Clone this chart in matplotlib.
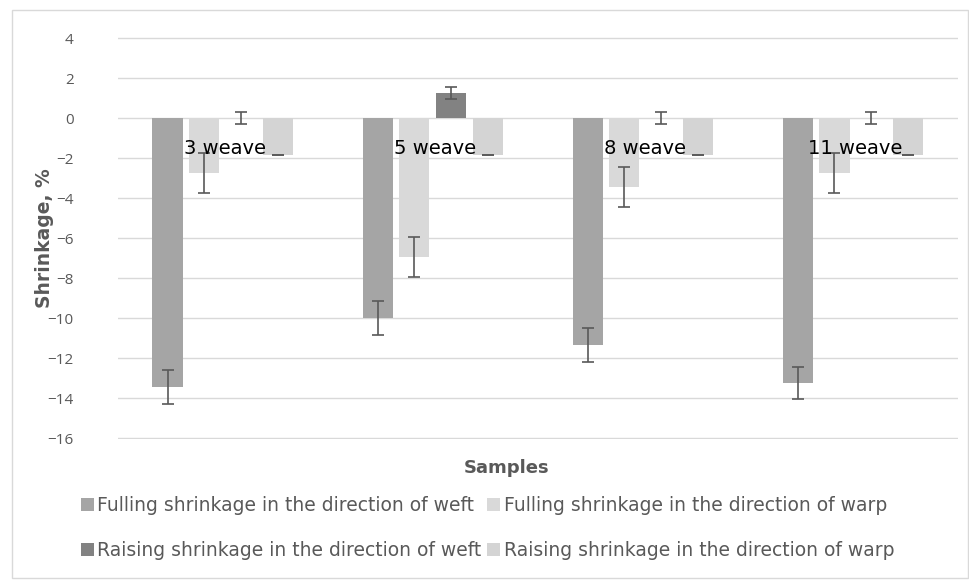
import numpy as np
import matplotlib
matplotlib.use('Agg')
import matplotlib.pyplot as plt
from matplotlib.patches import Rectangle

# ---------------------------------------------------------------
# Data
# ---------------------------------------------------------------
samples = ['3 weave', '5 weave', '8 weave', '11 weave']
series_names = ['Fulling shrinkage in the direction of weft',
                'Fulling shrinkage in the direction of warp',
                'Raising shrinkage in the direction of weft',
                'Raising shrinkage in the direction of warp']

fulling_weft = [-13.45, -10.0, -11.35, -13.25]
fulling_warp = [-2.75, -6.95, -3.45, -2.75]
raising_weft = [0.0, 1.25, 0.0, 0.0]
raising_warp = [-1.85, -1.85, -1.85, -1.85]

err_fulling_weft = [0.85, 0.85, 0.85, 0.8]
err_fulling_warp = [1.0, 1.0, 1.0, 1.0]
err_raising_weft = [0.3, 0.3, 0.3, 0.3]
err_raising_warp = [0.0, 0.0, 0.0, 0.0]

y_ticks = [4, 2, 0, -2, -4, -6, -8, -10, -12, -14, -16]

# ---------------------------------------------------------------
# Plot
# ---------------------------------------------------------------
colors = ['#a5a5a5', '#d9d9d9', '#828282', '#d4d4d4']
values = [fulling_weft, fulling_warp, raising_weft, raising_warp]
errors = [err_fulling_weft, err_fulling_warp, err_raising_weft, err_raising_warp]

plt.rcParams['font.family'] = ['DejaVu Sans']
plt.rcParams['axes.unicode_minus'] = True

fig = plt.figure(figsize=(9.7, 5.8), dpi=100)
ax = fig.add_axes([0.1216, 0.2431, 0.8660, 0.6931])

x = np.arange(len(samples))
bar_w = 0.143
step = 0.176
handles = []
for i, (vals, errs, col, name) in enumerate(zip(values, errors, colors, series_names)):
    pos = x + (i - 1.5) * step
    h = ax.bar(pos, vals, width=bar_w, color=col, label=name, zorder=2)
    handles.append(h)
    ax.errorbar(pos, vals, yerr=errs, fmt='none', ecolor='#595959',
                elinewidth=1.2, capsize=4.5, capthick=1.2, zorder=3)

# category labels sit next to the zero line, as in Excel
for xi, s in zip(x, samples):
    ax.text(xi + 0.01, -1.5, s, ha='center', va='center', fontsize=14, color='black', zorder=4)

ax.set_xlim(-0.5, len(samples) - 0.5)
ax.set_ylim(-16.05, 4.05)
ax.set_yticks(y_ticks)
ax.set_xticks([])
ax.tick_params(axis='y', length=0, labelsize=11, colors='#595959', pad=32)
for lab in ax.get_yticklabels():
    lab.set_fontfamily('Open Sans')
ax.grid(axis='y', color='#d9d9d9', linewidth=1, zorder=0)
ax.set_axisbelow(True)
for sp in ax.spines.values():
    sp.set_visible(False)

fig.text(45 / 970, 1 - 238 / 580, 'Shrinkage, %', rotation=90, ha='center', va='center',
         fontsize=13.5, fontweight='bold', color='#595959')
fig.text(507 / 970, 1 - 468 / 580, 'Samples', ha='center', va='center',
         fontsize=13, fontweight='bold', color='#595959')

# row-wise order for a 2-column legend
order = [0, 2, 1, 3]
leg = fig.legend([handles[k] for k in order], [series_names[k] for k in order],
                 loc='upper left', bbox_to_anchor=(0.083, 1 - 496 / 580), ncol=2, frameon=False,
                 fontsize=13.5, handlelength=0.7, handleheight=0.7, handletextpad=0.2,
                 columnspacing=0.3, labelspacing=1.4, borderaxespad=0, borderpad=0)
for t in leg.get_texts():
    t.set_color('#595959')

# chart border
fig.patches.append(Rectangle((0.012, 0.003), 0.986, 0.980, transform=fig.transFigure,
                             fill=False, edgecolor='#d9d9d9', linewidth=1))

fig.savefig('out.png', dpi=100)
